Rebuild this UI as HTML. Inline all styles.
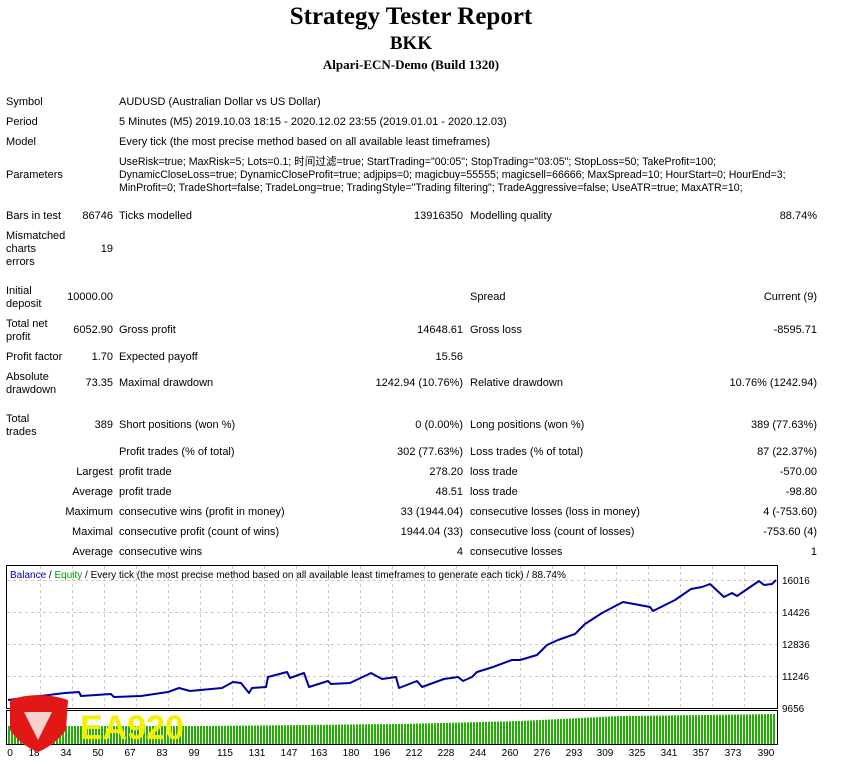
<!DOCTYPE html>
<html><head><meta charset="utf-8"><style>
body{margin:0;width:842px;height:764px;background:#fff;position:relative;overflow:hidden;font-family:"Liberation Sans","Noto Sans CJK SC",sans-serif;font-size:11px;color:#000}
.t{position:absolute;line-height:13px;white-space:nowrap;margin-top:2px}
.p{font-size:10.6px}
.r{text-align:right}
.h{position:absolute;left:0;width:822px;text-align:center;font-family:"Liberation Serif",serif;font-weight:bold}
</style></head><body>
<div class="h" style="top:3px;font-size:25px">Strategy Tester Report</div>
<div class="h" style="top:33px;font-size:19px">BKK</div>
<div class="h" style="top:57px;font-size:13px">Alpari-ECN-Demo (Build 1320)</div>

<div class="t" style="left:6px;top:94px">Symbol</div>
<div class="t" style="left:119px;top:94px">AUDUSD (Australian Dollar vs US Dollar)</div>
<div class="t" style="left:6px;top:114px">Period</div>
<div class="t" style="left:119px;top:114px">5 Minutes (M5) 2019.10.03 18:15 - 2020.12.02 23:55 (2019.01.01 - 2020.12.03)</div>
<div class="t" style="left:6px;top:134px">Model</div>
<div class="t" style="left:119px;top:134px">Every tick (the most precise method based on all available least timeframes)</div>
<div class="t" style="left:6px;top:167px">Parameters</div>
<div class="t p" style="left:119px;top:154px">UseRisk=true; MaxRisk=5; Lots=0.1; 时间过滤=true; StartTrading="00:05"; StopTrading="03:05"; StopLoss=50; TakeProfit=100;</div>
<div class="t p" style="left:119px;top:167px">DynamicCloseLoss=true; DynamicCloseProfit=true; adjpips=0; magicbuy=55555; magicsell=66666; MaxSpread=10; HourStart=0; HourEnd=3;</div>
<div class="t p" style="left:119px;top:180px">MinProfit=0; TradeShort=false; TradeLong=true; TradingStyle="Trading filtering"; TradeAggressive=false; UseATR=true; MaxATR=10;</div>

<div class="t" style="left:6px;top:208px">Bars in test</div>
<div class="t r" style="right:729px;top:208px">86746</div>
<div class="t" style="left:119px;top:208px">Ticks modelled</div>
<div class="t r" style="right:379px;top:208px">13916350</div>
<div class="t" style="left:470px;top:208px">Modelling quality</div>
<div class="t r" style="right:25px;top:208px">88.74%</div>

<div class="t" style="left:6px;top:228px">Mismatched<br>charts<br>errors</div>
<div class="t r" style="right:729px;top:241px">19</div>

<div class="t" style="left:6px;top:283px">Initial<br>deposit</div>
<div class="t r" style="right:729px;top:289px">10000.00</div>
<div class="t" style="left:470px;top:289px">Spread</div>
<div class="t r" style="right:25px;top:289px">Current (9)</div>

<div class="t" style="left:6px;top:316px">Total net<br>profit</div>
<div class="t r" style="right:729px;top:322px">6052.90</div>
<div class="t" style="left:119px;top:322px">Gross profit</div>
<div class="t r" style="right:379px;top:322px">14648.61</div>
<div class="t" style="left:470px;top:322px">Gross loss</div>
<div class="t r" style="right:25px;top:322px">-8595.71</div>

<div class="t" style="left:6px;top:349px">Profit factor</div>
<div class="t r" style="right:729px;top:349px">1.70</div>
<div class="t" style="left:119px;top:349px">Expected payoff</div>
<div class="t r" style="right:379px;top:349px">15.56</div>

<div class="t" style="left:6px;top:369px">Absolute<br>drawdown</div>
<div class="t r" style="right:729px;top:375px">73.35</div>
<div class="t" style="left:119px;top:375px">Maximal drawdown</div>
<div class="t r" style="right:379px;top:375px">1242.94 (10.76%)</div>
<div class="t" style="left:470px;top:375px">Relative drawdown</div>
<div class="t r" style="right:25px;top:375px">10.76% (1242.94)</div>

<div class="t" style="left:6px;top:411px">Total<br>trades</div>
<div class="t r" style="right:729px;top:417px">389</div>
<div class="t" style="left:119px;top:417px">Short positions (won %)</div>
<div class="t r" style="right:379px;top:417px">0 (0.00%)</div>
<div class="t" style="left:470px;top:417px">Long positions (won %)</div>
<div class="t r" style="right:25px;top:417px">389 (77.63%)</div>

<div class="t" style="left:119px;top:444px">Profit trades (% of total)</div>
<div class="t r" style="right:379px;top:444px">302 (77.63%)</div>
<div class="t" style="left:470px;top:444px">Loss trades (% of total)</div>
<div class="t r" style="right:25px;top:444px">87 (22.37%)</div>

<div class="t r" style="right:729px;top:464px">Largest</div>
<div class="t" style="left:119px;top:464px">profit trade</div>
<div class="t r" style="right:379px;top:464px">278.20</div>
<div class="t" style="left:470px;top:464px">loss trade</div>
<div class="t r" style="right:25px;top:464px">-570.00</div>

<div class="t r" style="right:729px;top:484px">Average</div>
<div class="t" style="left:119px;top:484px">profit trade</div>
<div class="t r" style="right:379px;top:484px">48.51</div>
<div class="t" style="left:470px;top:484px">loss trade</div>
<div class="t r" style="right:25px;top:484px">-98.80</div>

<div class="t r" style="right:729px;top:504px">Maximum</div>
<div class="t" style="left:119px;top:504px">consecutive wins (profit in money)</div>
<div class="t r" style="right:379px;top:504px">33 (1944.04)</div>
<div class="t" style="left:470px;top:504px">consecutive losses (loss in money)</div>
<div class="t r" style="right:25px;top:504px">4 (-753.60)</div>

<div class="t r" style="right:729px;top:524px">Maximal</div>
<div class="t" style="left:119px;top:524px">consecutive profit (count of wins)</div>
<div class="t r" style="right:379px;top:524px">1944.04 (33)</div>
<div class="t" style="left:470px;top:524px">consecutive loss (count of losses)</div>
<div class="t r" style="right:25px;top:524px">-753.60 (4)</div>

<div class="t r" style="right:729px;top:544px">Average</div>
<div class="t" style="left:119px;top:544px">consecutive wins</div>
<div class="t r" style="right:379px;top:544px">4</div>
<div class="t" style="left:470px;top:544px">consecutive losses</div>
<div class="t r" style="right:25px;top:544px">1</div>

<svg style="position:absolute;left:0;top:560px" width="842" height="204" viewBox="0 560 842 204">
<defs>
<pattern id="bars" width="3" height="10" patternUnits="userSpaceOnUse" x="8">
<rect x="0" y="0" width="2" height="10" fill="#22b000"/>
</pattern>
</defs>
<g stroke="#c8c8c8" stroke-dasharray="3,3" stroke-width="1">
<line x1="7" x2="778" y1="580.5" y2="580.5"/>
<line x1="7" x2="778" y1="612.5" y2="612.5"/>
<line x1="7" x2="778" y1="644.5" y2="644.5"/>
<line x1="7" x2="778" y1="676.5" y2="676.5"/>
</g>
<g stroke="#c8c8c8" stroke-dasharray="3,3" stroke-width="1">
<line x1="40.5" x2="40.5" y1="566" y2="708"/><line x1="72.5" x2="72.5" y1="566" y2="708"/>
<line x1="104.5" x2="104.5" y1="566" y2="708"/><line x1="136.5" x2="136.5" y1="566" y2="708"/>
<line x1="168.5" x2="168.5" y1="566" y2="708"/><line x1="200.5" x2="200.5" y1="566" y2="708"/>
<line x1="232.5" x2="232.5" y1="566" y2="708"/><line x1="264.5" x2="264.5" y1="566" y2="708"/>
<line x1="296.5" x2="296.5" y1="566" y2="708"/><line x1="328.5" x2="328.5" y1="566" y2="708"/>
<line x1="360.5" x2="360.5" y1="566" y2="708"/><line x1="392.5" x2="392.5" y1="566" y2="708"/>
<line x1="424.5" x2="424.5" y1="566" y2="708"/><line x1="456.5" x2="456.5" y1="566" y2="708"/>
<line x1="488.5" x2="488.5" y1="566" y2="708"/><line x1="520.5" x2="520.5" y1="566" y2="708"/>
<line x1="552.5" x2="552.5" y1="566" y2="708"/><line x1="584.5" x2="584.5" y1="566" y2="708"/>
<line x1="616.5" x2="616.5" y1="566" y2="708"/><line x1="648.5" x2="648.5" y1="566" y2="708"/>
<line x1="680.5" x2="680.5" y1="566" y2="708"/><line x1="712.5" x2="712.5" y1="566" y2="708"/>
<line x1="744.5" x2="744.5" y1="566" y2="708"/>
</g>
<rect x="6.5" y="565.5" width="771" height="143" fill="none" stroke="#000"/>
<rect x="6.5" y="710.5" width="771" height="34" fill="none" stroke="#000"/>
<polygon fill="url(#bars)" points="8,744 8,726 200,726 400,724 520,721 620,716 700,715 776,714 776,744"/>
<polyline fill="none" stroke="#0000a0" stroke-width="2" stroke-linejoin="round" points="8,700 65,693 79,692 81,696 111,694 114,697 141,696 168,692 179,688 190,691 222,688 233,682 241,683 249,693 252,688 266,687 268,677 287,672 290,678 304,673 309,687 328,681 331,684 350,683 371,673 382,679 396,677 399,688 417,681 422,687 444,679 458,677 463,681 472,677 477,672 493,667 512,660 520,660 537,655 547,645 558,640 575,634 585,624 602,613 623,602 634,604 650,607 653,611 675,600 691,589 702,587 710,584 724,597 732,593 737,596 759,581 764,585 772,584 776,580"/>
<g font-size="10" font-family="Liberation Sans,sans-serif">
<text x="10" y="578"><tspan fill="#0000c0">Balance</tspan> / <tspan fill="#00a000">Equity</tspan> / Every tick (the most precise method based on all available least timeframes to generate each tick) / 88.74%</text>
<text x="782" y="584">16016</text>
<text x="782" y="616">14426</text>
<text x="782" y="648">12836</text>
<text x="782" y="680">11246</text>
<text x="782" y="712">9656</text>
<g text-anchor="middle">
<text x="10" y="756">0</text><text x="34" y="756">18</text><text x="66" y="756">34</text><text x="98" y="756">50</text>
<text x="130" y="756">67</text><text x="162" y="756">83</text><text x="194" y="756">99</text><text x="225" y="756">115</text>
<text x="257" y="756">131</text><text x="289" y="756">147</text><text x="319" y="756">163</text><text x="351" y="756">180</text>
<text x="382" y="756">196</text><text x="414" y="756">212</text><text x="446" y="756">228</text><text x="478" y="756">244</text>
<text x="510" y="756">260</text><text x="542" y="756">276</text><text x="574" y="756">293</text><text x="605" y="756">309</text>
<text x="637" y="756">325</text><text x="669" y="756">341</text><text x="701" y="756">357</text><text x="733" y="756">373</text>
<text x="766" y="756">390</text>
</g>
</g>
<path d="M10,700 Q38,690 68,700 L66,730 Q55,745 38,752 Q20,745 10,730 Z" fill="#e01818"/>
<path d="M24,712 L52,712 L38,740 Z" fill="#fff" opacity="0.8"/>
<text x="80" y="739" font-family="Liberation Sans,sans-serif" font-weight="bold" font-size="34" fill="#f5f000">EA920</text>
</svg>
</body></html>
